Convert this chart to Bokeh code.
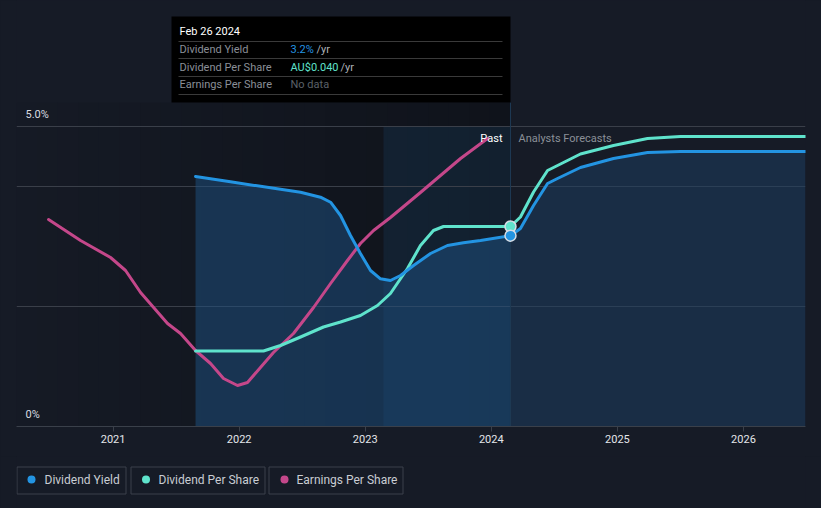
from bokeh.plotting import figure
from bokeh.models import Range1d, FixedTicker, Label
from bokeh.layouts import column
from bokeh.embed import file_html
from bokeh.resources import INLINE

# ---------------- data ----------------
years = [2021, 2022, 2023, 2024, 2025, 2026]
year_labels = ["2021", "2022", "2023", "2024", "2025", "2026"]

# Dividend Yield (%)
yield_t = [2021.654, 2021.931, 2022.249, 2022.487, 2022.645, 2022.725, 2022.804,
           2022.883, 2022.962, 2023.042, 2023.121, 2023.200, 2023.280, 2023.383,
           2023.518, 2023.652, 2023.779, 2023.914, 2024.152, 2024.231, 2024.335,
           2024.446, 2024.525, 2024.707, 2024.969, 2025.239, 2025.500, 2026.492]
yield_v = [4.167, 4.078, 3.978, 3.905, 3.822, 3.738, 3.517,
           3.183, 2.883, 2.600, 2.462, 2.433, 2.517, 2.683,
           2.883, 3.017, 3.062, 3.100, 3.180, 3.300, 3.683,
           4.050, 4.133, 4.317, 4.467, 4.567, 4.583, 4.583]

# Dividend Per Share (AU$)
dps_t = [2021.654, 2022.193, 2022.328, 2022.487, 2022.669, 2022.804, 2022.962,
         2023.097, 2023.200, 2023.335, 2023.438, 2023.541, 2023.621, 2024.152,
         2024.231, 2024.335, 2024.446, 2024.549, 2024.707, 2024.969, 2025.239,
         2025.500, 2026.492]
dps_v = [0.0151, 0.0151, 0.0162, 0.0179, 0.0199, 0.0209, 0.0222,
         0.0242, 0.0266, 0.0316, 0.0362, 0.0392, 0.0400, 0.0400,
         0.0419, 0.0469, 0.0512, 0.0525, 0.0545, 0.0562, 0.0576,
         0.0580, 0.0580]

# Earnings Per Share (relative scale)
eps_t = [2020.488, 2020.742, 2020.980, 2021.099, 2021.218, 2021.432, 2021.535,
         2021.654, 2021.773, 2021.876, 2021.987, 2022.066, 2022.169, 2022.272,
         2022.431, 2022.590, 2022.725, 2022.859, 2022.962, 2023.066, 2023.200,
         2023.438, 2023.756, 2023.970]
eps_v = [0.207, 0.186, 0.169, 0.156, 0.134, 0.103, 0.093,
         0.076, 0.063, 0.048, 0.041, 0.044, 0.059, 0.074,
         0.093, 0.119, 0.143, 0.166, 0.183, 0.196, 0.209,
         0.234, 0.268, 0.288]

now_t = 2024.152
now_yield = 3.18
now_dps = 0.040

legend_names = ["Dividend Yield", "Dividend Per Share", "Earnings Per Share"]

# ---------------- style ----------------
BG = "#161b26"
FONT = "Roboto"
C_YIELD = "#2394e2"
C_DPS = "#5fe3cc"
C_EPS = "#c4478a"
legend_colors = [C_YIELD, C_DPS, C_EPS]

X0, X1 = 2020.234, 2026.492
YTOP = 426 / 60.0


def X(px):
    return X0 + (px - 16) / 126.08


def Y(py):
    return (426 - py) / 60.0


p = figure(width=821, height=456, x_range=Range1d(X0, X1), y_range=Range1d(0, YTOP),
           output_backend="svg", toolbar_location=None, y_axis_location=None,
           min_border_left=16, min_border_right=16, min_border_top=0, min_border_bottom=30,
           background_fill_color=BG, border_fill_color=BG, outline_line_color=None)
p.extra_y_ranges = {"dps": Range1d(0, 426 * 0.0002), "eps": Range1d(0, 0.426)}

# past region darkening (horizontal gradient)
n = 24
w = (X(510) - X(16)) / n
for i in range(n):
    a = 0.02 + 0.26 * i / (n - 1)
    p.quad(left=X(16) + i * w, right=X(16) + (i + 1) * w + 0.0005, bottom=0, top=Y(102),
           fill_color="#000000", fill_alpha=a, line_color=None, level="image")
# highlight band
p.quad(left=X(383), right=X(510), bottom=0, top=Y(126), fill_color="#1f5584",
       fill_alpha=0.2, line_color=None, level="image")

# grid
p.xgrid.visible = False
p.ygrid.ticker = FixedTicker(ticks=[2, 4, 5])
p.ygrid.grid_line_color = "#3a3f49"
p.ygrid.grid_line_width = 1

# yield area
k = yield_t.index(now_t)
p.varea(x=yield_t[:k + 1], y1=[0] * (k + 1), y2=yield_v[:k + 1],
        fill_color="#1d5283", fill_alpha=0.5)
p.varea(x=yield_t[k:], y1=[0] * (len(yield_t) - k), y2=yield_v[k:],
        fill_color="#1c3f63", fill_alpha=0.5)

# hover line
p.segment(x0=[now_t], y0=[0], x1=[now_t], y1=[Y(102)], line_color="#1e3a54", line_width=1)

# lines
p.line(eps_t, eps_v, y_range_name="eps", line_color=C_EPS, line_width=3,
       line_join="round", line_cap="round")
p.line(dps_t, dps_v, y_range_name="dps", line_color=C_DPS, line_width=3,
       line_join="round", line_cap="round")
p.line(yield_t, yield_v, line_color=C_YIELD, line_width=3,
       line_join="round", line_cap="round")

p.scatter([now_t], [now_dps], y_range_name="dps", size=11, fill_color=C_DPS,
          line_color="#d5dde6", line_width=1.5)
p.scatter([now_t], [now_yield], size=11, fill_color=C_YIELD,
          line_color="#d5dde6", line_width=1.5)

# x axis
ax = p.xaxis[0]
ax.ticker = FixedTicker(ticks=years)
ax.major_label_overrides = {yv: lab for yv, lab in zip(years, year_labels)}
ax.axis_line_color = "#3a404a"
ax.major_tick_line_color = "#3a404a"
ax.major_tick_out = 5
ax.major_tick_in = 0
ax.minor_tick_line_color = None
ax.major_label_text_color = "#e4e6ea"
ax.major_label_text_font = FONT
ax.major_label_text_font_size = "11px"
ax.major_label_standoff = 3

# y labels
for txt, py in [("5.0%", 114), ("0%", 414)]:
    p.add_layout(Label(x=X(25), y=Y(py), text=txt, text_align="left", text_baseline="middle",
                       text_color="#d9dce1", text_font=FONT, text_font_size="11px"))

p.add_layout(Label(x=X(502), y=Y(138), text="Past", text_align="right", text_baseline="middle",
                   text_color="#ffffff", text_font=FONT, text_font_size="11px"))
p.add_layout(Label(x=X(518), y=Y(138), text="Analysts Forecasts", text_align="left",
                   text_baseline="middle", text_color="#8b9098", text_font=FONT,
                   text_font_size="11px"))

# tooltip
p.quad(left=X(171), right=X(510), top=Y(16), bottom=Y(102), fill_color="#000000",
       line_color=None)
for py in [41, 58, 76, 94]:
    p.segment(x0=[X(178)], y0=[Y(py)], x1=[X(502)], y1=[Y(py)], line_color="#3a3a3a",
              line_width=1)


def tlabel(px, py, txt, color):
    p.add_layout(Label(x=X(px), y=Y(py), text=txt, text_align="left", text_baseline="middle",
                       text_color=color, text_font=FONT, text_font_size="11px"))


tlabel(179, 31, "Feb 26 2024", "#ffffff")
tlabel(179, 49, "Dividend Yield", "#8a8f97")
tlabel(179, 67, "Dividend Per Share", "#8a8f97")
tlabel(179, 84, "Earnings Per Share", "#8a8f97")
tlabel(290, 49, "3.2%", C_YIELD)
tlabel(316, 49, "/yr", "#aeb2b8")
tlabel(290, 67, "AU$0.040", C_DPS)
tlabel(340, 67, "/yr", "#aeb2b8")
tlabel(290, 84, "No data", "#5b6068")

# ---------------- legend ----------------
# frame aligned with the main figure's frame (page x 16..805)
lg = figure(width=821, height=52, x_range=Range1d(16, 805), y_range=Range1d(508, 456),
            output_backend="svg", toolbar_location=None, x_axis_location=None,
            y_axis_location=None, min_border_left=16, min_border_right=16,
            min_border_top=0, min_border_bottom=0, background_fill_color=BG,
            border_fill_color=BG, outline_line_color=None)
lg.grid.visible = False
box_l = [16.5, 130.5, 268.5]
box_r = [125.5, 264.5, 402.5]
dot_x = [31, 145.5, 284]
txt_x = [44, 158, 296]
lg.quad(left=box_l, right=box_r, top=[466.5] * 3, bottom=[493.5] * 3, fill_color=BG,
        line_color="#3a404a", line_width=1)
lg.scatter(dot_x, [479] * 3, size=8, fill_color=legend_colors, line_color=None)
for tx, name in zip(txt_x, legend_names):
    lg.add_layout(Label(x=tx, y=479, text=name, text_align="left", text_baseline="middle",
                        text_color="#c9cdd3", text_font=FONT, text_font_size="12px"))

layout = column(p, lg, spacing=0)
layout.styles = {"background-color": BG}
open("out.html", "w").write(file_html(layout, INLINE))
